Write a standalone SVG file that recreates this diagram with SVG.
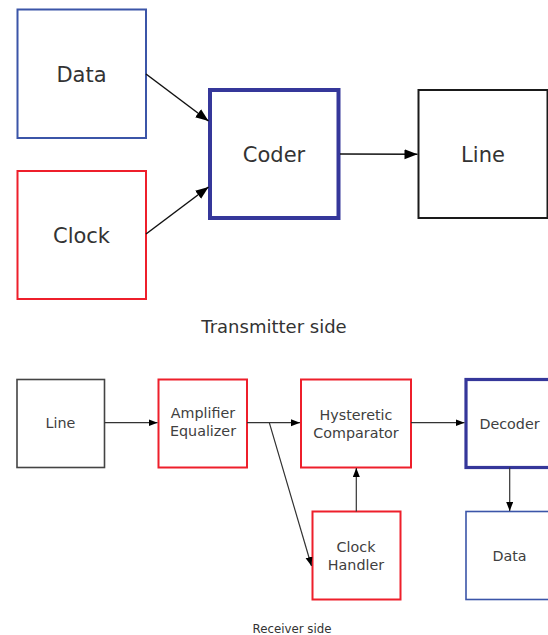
<svg xmlns="http://www.w3.org/2000/svg" width="548" height="635" viewBox="0 0 548 635">
  <style>
    .box { fill: #ffffff; }
    .blue { stroke: #3b55a8; stroke-width: 2; }
    .red { stroke: #ee1f2b; stroke-width: 2; }
    .navy { stroke: #35379a; stroke-width: 4; }
    .navy2 { stroke: #35379a; stroke-width: 3.2; }
    .black { stroke: #1a1a1a; stroke-width: 2; }
    .gray { stroke: #444444; stroke-width: 1.6; }
    .lbl { font-family: "DejaVu Sans", Verdana, sans-serif; fill: #333333; text-anchor: middle; }
    .big { font-size: 21px; }
    .small { font-size: 14.3px; fill: #404040; }
    .wire { fill: none; stroke: #111111; stroke-width: 1.5; }
    .wire2 { fill: none; stroke: #333333; stroke-width: 1.2; }
  </style>
  <defs>
    <marker id="ahBig" markerUnits="userSpaceOnUse" markerWidth="14" markerHeight="12" refX="13" refY="5" orient="auto">
      <path d="M0,0 L13,5 L0,10 Z" fill="#000000"/>
    </marker>
    <marker id="ahSmall" markerUnits="userSpaceOnUse" markerWidth="10" markerHeight="8" refX="9" refY="3.5" orient="auto">
      <path d="M0,0 L9,3.5 L0,7 Z" fill="#000000"/>
    </marker>
  </defs>

  <rect width="548" height="635" fill="#ffffff"/>

  <!-- transmitter side -->
  <g id="tx-data">
    <rect class="box blue" x="17.5" y="9.5" width="128.5" height="128.5"/>
    <text class="lbl big" x="81.5" y="82">Data</text>
  </g>
  <g id="tx-clock">
    <rect class="box red" x="17.5" y="171" width="128.5" height="128"/>
    <text class="lbl big" x="81.5" y="242.5">Clock</text>
  </g>
  <g id="tx-coder">
    <rect class="box navy" x="210" y="90" width="128.5" height="128"/>
    <text class="lbl big" x="274" y="162">Coder</text>
  </g>
  <g id="tx-line">
    <rect class="box black" x="418.5" y="90" width="129" height="128"/>
    <text class="lbl big" x="483" y="162">Line</text>
  </g>
  <text id="tx-caption" class="lbl" x="274" y="333" font-size="18">Transmitter side</text>

  <!-- receiver side -->
  <g id="rx-line">
    <rect class="box gray" x="17" y="379.5" width="87.5" height="88"/>
    <text class="lbl small" x="60.5" y="428">Line</text>
  </g>
  <g id="rx-amp">
    <rect class="box red" x="158.5" y="379.5" width="88.5" height="88"/>
    <text class="lbl small" x="203" y="418">Amplifier</text>
    <text class="lbl small" x="203" y="435.5">Equalizer</text>
  </g>
  <g id="rx-comp">
    <rect class="box red" x="301" y="379.5" width="110" height="88"/>
    <text class="lbl small" x="356" y="420">Hysteretic</text>
    <text class="lbl small" x="356" y="437.5">Comparator</text>
  </g>
  <g id="rx-decoder">
    <rect class="box navy2" x="466" y="379.5" width="90" height="88"/>
    <text class="lbl small" x="509.5" y="429">Decoder</text>
  </g>
  <g id="rx-clock">
    <rect class="box red" x="312.5" y="511.5" width="88" height="88"/>
    <text class="lbl small" x="356" y="552">Clock</text>
    <text class="lbl small" x="356" y="569.5">Handler</text>
  </g>
  <g id="rx-data">
    <rect class="box blue" x="466" y="511.5" width="90" height="88" style="stroke-width:1.6"/>
    <text class="lbl small" x="509.5" y="561">Data</text>
  </g>
  <text id="rx-caption" class="lbl" x="292" y="633" font-size="11.8" fill="#444444">Receiver side</text>

  <!-- connectors -->
  <g id="connectors">
    <line class="wire" x1="146" y1="74" x2="208.5" y2="121" marker-end="url(#ahBig)"/>
    <line class="wire" x1="146" y1="234" x2="208.5" y2="187" marker-end="url(#ahBig)"/>
    <line class="wire" x1="340" y1="154" x2="417.5" y2="154.3" marker-end="url(#ahBig)"/>

    <line class="wire2" x1="104.5" y1="422.7" x2="157.5" y2="422.7" marker-end="url(#ahSmall)"/>
    <line class="wire2" x1="247" y1="422.7" x2="300" y2="422.7" marker-end="url(#ahSmall)"/>
    <line class="wire2" x1="269.3" y1="422.7" x2="311.5" y2="566" marker-end="url(#ahSmall)"/>
    <line class="wire2" x1="411" y1="422.7" x2="464.5" y2="422.7" marker-end="url(#ahSmall)"/>
    <line class="wire2" x1="356.3" y1="511.5" x2="356.3" y2="468" marker-end="url(#ahSmall)"/>
    <line class="wire2" x1="509.7" y1="467.5" x2="509.7" y2="511" marker-end="url(#ahSmall)"/>
  </g>
</svg>
